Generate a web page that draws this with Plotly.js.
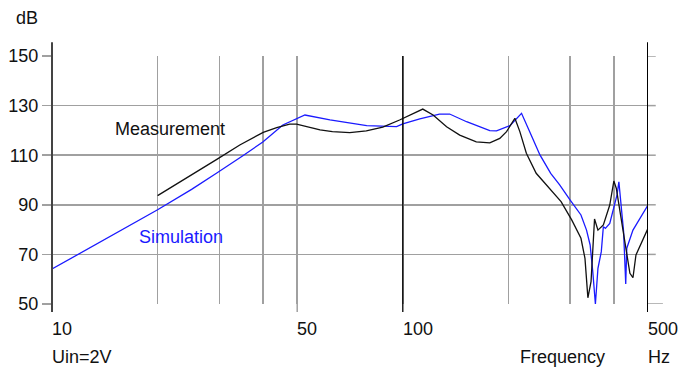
<!DOCTYPE html>
<html>
<head>
<meta charset="utf-8">
<script src="https://cdn.plot.ly/plotly-3.0.1.min.js"></script>
<style>html,body{margin:0;padding:0;background:#fff;}#chart{width:681px;height:367px;}</style>
</head>
<body>
<div id="chart"></div>
<script>
// ---- data ----
const simFreq = [10, 12, 15, 20, 25, 27.6, 29.5, 35, 39.9, 45.5, 50, 52.6, 62, 70, 78.9, 96, 100, 111.8, 127.2, 136, 152, 177, 185, 202, 218, 230, 246, 264, 280, 300, 322, 334, 342, 348, 354, 360, 368, 373, 378, 389, 402, 408, 413, 420, 426, 432, 435, 453, 500];
const simDb   = [64.1, 70.3, 78, 88, 96.2, 100, 102.8, 109.8, 115.3, 122.2, 125, 126.2, 124.2, 122.9, 121.9, 121.5, 122.6, 124.6, 126.6, 126.6, 123.5, 119.9, 119.8, 121.9, 126.9, 119.5, 110.1, 102.7, 98, 91.9, 85.9, 79.8, 73.8, 63, 50, 64.4, 71.1, 81.2, 80.5, 82.5, 89.9, 94, 99.3, 89.9, 79.2, 58.1, 72.5, 79.8, 89.9];

const measFreq = [20, 23.7, 29.5, 34.3, 40, 43.7, 47.6, 49.8, 58.1, 63, 70.6, 78.7, 87.7, 97.9, 106.8, 114, 122, 133.3, 145.3, 162, 177, 189, 197.6, 208.7, 215.6, 225, 240, 262, 282.6, 303, 322, 330.6, 337, 344, 352, 360, 373, 389, 399.6, 406, 420, 434, 444, 453, 462, 500];
const measDb   = [93.7, 100, 108.3, 114.1, 119.2, 121.1, 122.5, 122.5, 120.2, 119.5, 119.1, 119.8, 121.3, 124.2, 126.9, 128.6, 126.2, 121.5, 118.1, 115.4, 115, 116.8, 119.5, 124.9, 119.5, 110.8, 102.7, 96.7, 91.3, 83.9, 76.5, 68.4, 52.5, 59, 84.3, 79.8, 81.9, 89.9, 99.6, 96.7, 83.9, 71.1, 62.4, 60.6, 69.8, 80.5];

const xGrid = [10, 20, 30, 40, 50, 100, 200, 300, 400, 500];
const xLabeled = [10, 50, 100, 500];
const xDark = [100, 500];
const yTicks = [50, 70, 90, 110, 130, 150];

// ---- styling ----
const FONT = "Liberation Sans, Arial, Helvetica, sans-serif";
const GRID = "#a0a0a0";
const txt = {family: FONT, size: 18, color: "#111"};

const traces = [
  {x: simFreq, y: simDb, mode: "lines", line: {color: "#1a1aff", width: 1.3}, hoverinfo: "none"},
  {x: measFreq, y: measDb, mode: "lines", line: {color: "#111", width: 1.3}, hoverinfo: "none"}
];

const shapes = [];
// black vertical lines at 100 and 500
xDark.forEach(v => shapes.push({type: "line", xref: "x", yref: "paper", x0: v, x1: v,
  y0: -0.032, y1: v === 500 ? 1.055 : 1, line: {color: "#000", width: v === 500 ? 2 : 1.3}}));
// gray tick marks below labeled frequencies (except dark ones)
xLabeled.filter(v => xDark.indexOf(v) < 0 && v !== 10).forEach(v => shapes.push({type: "line", xref: "x", yref: "paper",
  x0: v, x1: v, y0: -0.032, y1: 0, line: {color: GRID, width: 1.5}}));
// left axis
shapes.push({type: "line", xref: "paper", yref: "paper", x0: 0, x1: 0, y0: -0.032, y1: 1.055, line: {color: "#444", width: 2}});
// right extensions of horizontal grid lines
yTicks.forEach(v => shapes.push({type: "line", xref: "paper", yref: "y", x0: 1, x1: v === 50 ? 1.025 : 1.013,
  y0: v, y1: v, line: {color: GRID, width: 1.5}}));

const annotations = [];
xLabeled.forEach(v => annotations.push({x: Math.log10(v), y: -25 / 248, xref: "x", yref: "paper",
  text: String(v), showarrow: false, xanchor: "left", yanchor: "middle", xshift: -2, font: txt}));
annotations.push({xref: "paper", yref: "paper", x: -25 / 596, y: (304 - 18) / 248, text: "dB", showarrow: false, xanchor: "center", yanchor: "middle", font: txt});
annotations.push({xref: "paper", yref: "paper", x: 0, y: (304 - 357) / 248, text: "Uin=2V", showarrow: false, xanchor: "left", yanchor: "middle", xshift: -2, font: txt});
annotations.push({xref: "paper", yref: "paper", x: (520 - 52) / 596, y: (304 - 357) / 248, text: "Frequency", showarrow: false, xanchor: "left", yanchor: "middle", xshift: -2, font: txt});
annotations.push({xref: "paper", yref: "paper", x: (648 - 52) / 596, y: (304 - 357) / 248, text: "Hz", showarrow: false, xanchor: "left", yanchor: "middle", xshift: -2, font: txt});
annotations.push({xref: "x", yref: "y", x: Math.log10(15.1), y: 120.6, text: "Measurement", showarrow: false, xanchor: "left", yanchor: "middle", xshift: -2, font: txt});
annotations.push({xref: "x", yref: "y", x: Math.log10(17.7), y: 77, text: "Simulation", showarrow: false, xanchor: "left", yanchor: "middle", xshift: -2, font: {family: FONT, size: 18, color: "#1a1aff"}});

const layout = {
  width: 681, height: 367,
  margin: {l: 52, r: 33, t: 56, b: 63, pad: 0},
  paper_bgcolor: "#fff", plot_bgcolor: "#fff",
  showlegend: false,
  font: txt,
  xaxis: {type: "log", range: [1, Math.log10(500)], tickvals: xGrid, showticklabels: false,
    ticks: "", showgrid: true, gridcolor: GRID, gridwidth: 1.5, zeroline: false, showline: false, fixedrange: true},
  yaxis: {range: [50, 150], tickvals: yTicks, ticktext: yTicks.map(String), ticks: "outside", ticklen: 9,
    tickcolor: GRID, tickwidth: 1.5, tickfont: txt, showgrid: true, gridcolor: GRID, gridwidth: 1.5,
    zeroline: false, showline: false, fixedrange: true},
  shapes: shapes,
  annotations: annotations
};

Plotly.newPlot("chart", traces, layout, {staticPlot: true, displayModeBar: false});
</script>
</body>
</html>
